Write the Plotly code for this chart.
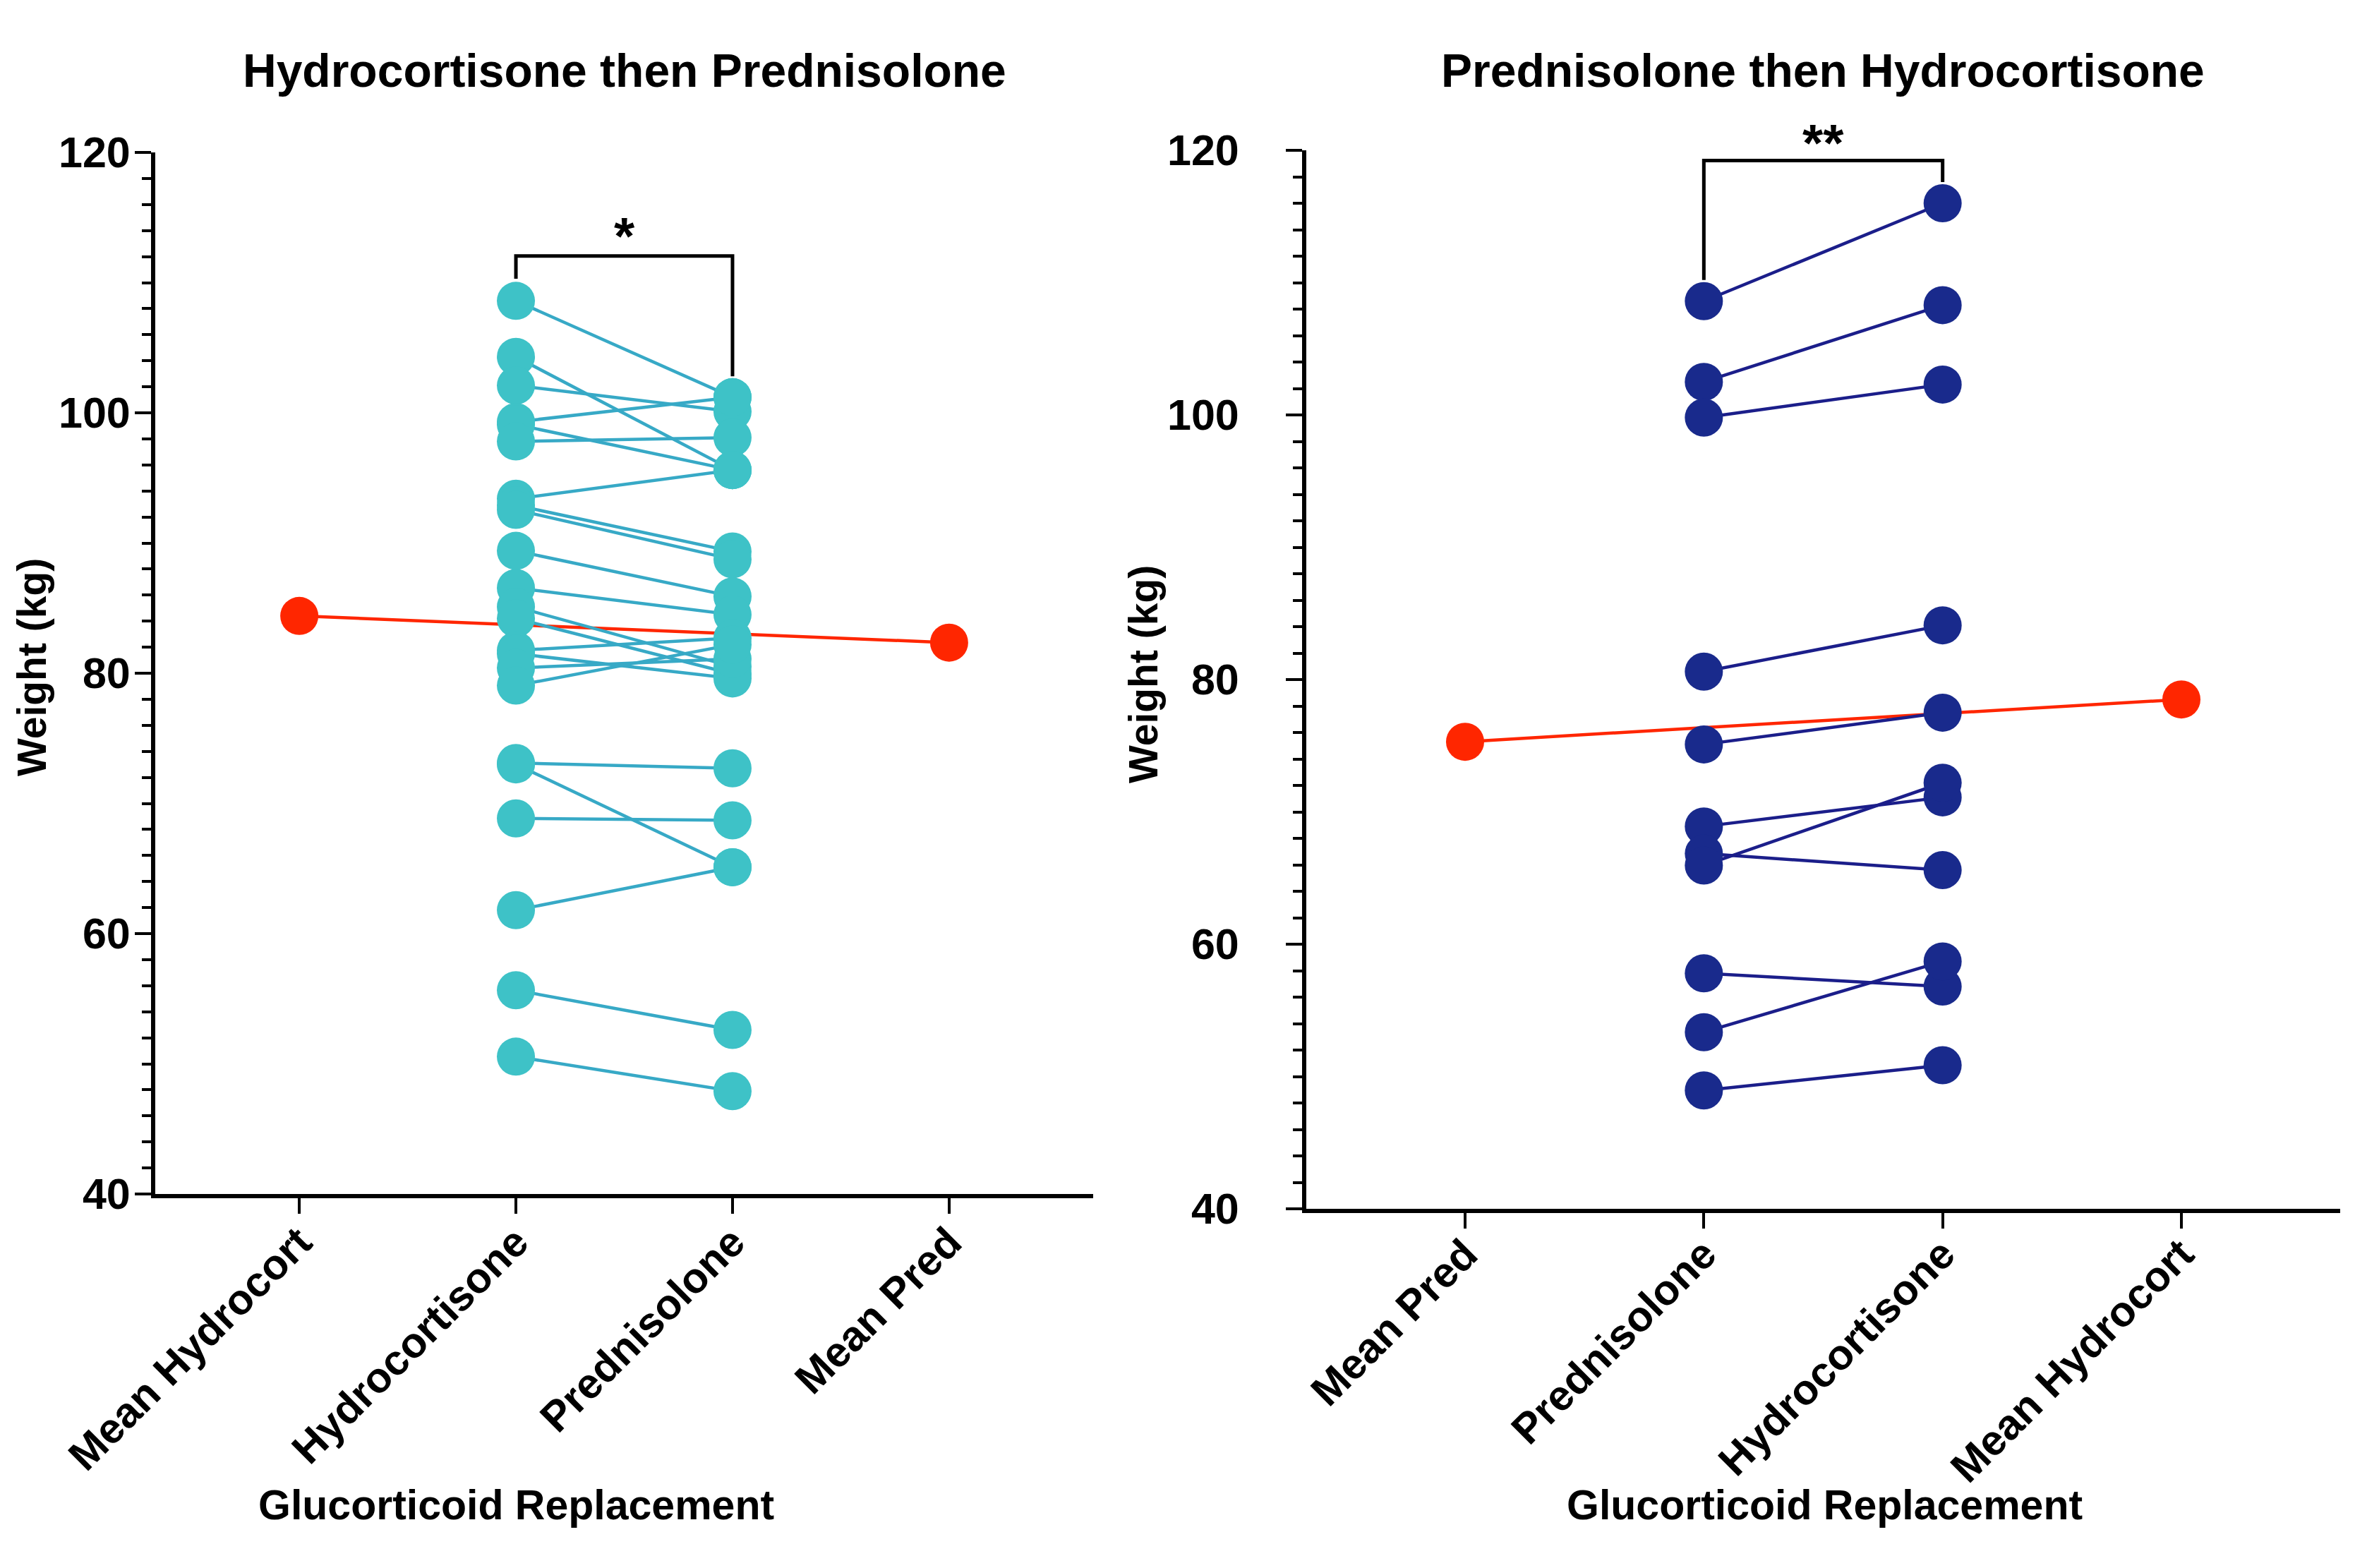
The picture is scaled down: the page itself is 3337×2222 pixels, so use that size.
import plotly.graph_objects as go

W, H = 3337, 2222

# ---------------- data ----------------
left_categories = ["Mean Hydrocort", "Hydrocortisone", "Prednisolone", "Mean Pred"]
right_categories = ["Mean Pred", "Prednisolone", "Hydrocortisone", "Mean Hydrocort"]

# Panel 1: Hydrocortisone then Prednisolone (paired, per subject)
hp_hydrocortisone = [108.6, 104.3, 102.1, 99.3, 99.1, 97.8, 93.4, 92.9, 92.55, 89.4, 86.55,
                     85.1, 84.2, 81.75, 81.5, 80.4, 79.05, 73.1, 73.0, 68.85, 61.8, 55.65, 50.55]
hp_prednisolone = [101.2, 95.6, 100.1, 101.2, 95.6, 98.1, 95.6, 89.35, 88.75, 85.9, 84.5,
                   80.5, 79.95, 82.7, 79.6, 81.1, 82.2, 72.7, 65.1, 68.7, 65.1, 52.6, 47.9]
hp_means = [84.4, 82.35]  # Mean Hydrocort, Mean Pred

# Panel 2: Prednisolone then Hydrocortisone (paired, per subject)
ph_prednisolone = [108.6, 102.5, 99.8, 80.6, 75.1, 68.9, 66.85, 65.95, 57.8, 53.35, 48.95]
ph_hydrocortisone = [116.0, 108.3, 102.3, 84.1, 77.5, 71.1, 65.6, 72.2, 56.8, 58.7, 50.85]
ph_means = [75.3, 78.5]  # Mean Pred, Mean Hydrocort

# significance brackets: [left end, top, right end]
hp_bracket = [110.3, 112.05, 102.8]
ph_bracket = [110.2, 119.23, 117.6]
hp_sig = "*"
ph_sig = "**"

y_ticks = [40, 60, 80, 100, 120]

titles = ["Hydrocortisone then Prednisolone", "Prednisolone then Hydrocortisone"]
x_title = "Glucorticoid Replacement"
y_title = "Weight (kg)"

# ---------------- style ----------------
FONT = "Liberation Sans, Arial, Helvetica, sans-serif"
TEAL_M = "#3EC2C7"
TEAL_L = "#37A9C6"
NAVY_M = "#192A8C"
NAVY_L = "#1B1E8A"
RED = "#FF2600"
MS = 54
LW = 4.5


def px_x(v):
    return v / W


def px_y(v):
    return 1 - v / H


fig = go.Figure()


def pair_lines(cats_a, cats_b, a_vals, b_vals):
    xs, ys = [], []
    for a, b in zip(a_vals, b_vals):
        xs += [cats_a, cats_b, None]
        ys += [a, b, None]
    return xs, ys


# ---------- Panel 1 ----------
fig.add_trace(go.Scatter(x=[left_categories[0], left_categories[3]], y=hp_means,
                         mode="lines+markers", line=dict(color=RED, width=LW),
                         marker=dict(color=RED, size=MS, line=dict(width=0)),
                         xaxis="x", yaxis="y", showlegend=False, hoverinfo="skip"))
xs, ys = pair_lines(left_categories[1], left_categories[2], hp_hydrocortisone, hp_prednisolone)
fig.add_trace(go.Scatter(x=xs, y=ys, mode="lines", line=dict(color=TEAL_L, width=LW),
                         xaxis="x", yaxis="y", showlegend=False, hoverinfo="skip"))
fig.add_trace(go.Scatter(x=[left_categories[1]] * len(hp_hydrocortisone) + [left_categories[2]] * len(hp_prednisolone),
                         y=hp_hydrocortisone + hp_prednisolone, mode="markers",
                         marker=dict(color=TEAL_M, size=MS, line=dict(width=0)),
                         xaxis="x", yaxis="y", showlegend=False))
fig.add_trace(go.Scatter(x=[left_categories[1], left_categories[1], left_categories[2], left_categories[2]],
                         y=[hp_bracket[0], hp_bracket[1], hp_bracket[1], hp_bracket[2]],
                         mode="lines", line=dict(color="black", width=5),
                         xaxis="x", yaxis="y", showlegend=False, hoverinfo="skip"))

# ---------- Panel 2 ----------
fig.add_trace(go.Scatter(x=[right_categories[0], right_categories[3]], y=ph_means,
                         mode="lines+markers", line=dict(color=RED, width=LW),
                         marker=dict(color=RED, size=MS, line=dict(width=0)),
                         xaxis="x2", yaxis="y2", showlegend=False, hoverinfo="skip"))
xs, ys = pair_lines(right_categories[1], right_categories[2], ph_prednisolone, ph_hydrocortisone)
fig.add_trace(go.Scatter(x=xs, y=ys, mode="lines", line=dict(color=NAVY_L, width=LW),
                         xaxis="x2", yaxis="y2", showlegend=False, hoverinfo="skip"))
fig.add_trace(go.Scatter(x=[right_categories[1]] * len(ph_prednisolone) + [right_categories[2]] * len(ph_hydrocortisone),
                         y=ph_prednisolone + ph_hydrocortisone, mode="markers",
                         marker=dict(color=NAVY_M, size=MS, line=dict(width=0)),
                         xaxis="x2", yaxis="y2", showlegend=False))
fig.add_trace(go.Scatter(x=[right_categories[1], right_categories[1], right_categories[2], right_categories[2]],
                         y=[ph_bracket[0], ph_bracket[1], ph_bracket[1], ph_bracket[2]],
                         mode="lines", line=dict(color="black", width=5),
                         xaxis="x2", yaxis="y2", showlegend=False, hoverinfo="skip"))

# ---------- axes ----------
def xaxis_cfg(cats, domain, anchor, standoff):
    return dict(type="category", categoryorder="array", categoryarray=cats,
                range=[-0.665, 3.665], domain=domain, anchor=anchor,
                showline=True, linewidth=6, linecolor="black", mirror=False,
                ticks="outside", ticklen=22, tickwidth=4, tickcolor="black",
                tickangle=-45, tickfont=dict(family=FONT, size=60, color="black", weight="bold"),
                ticklabelstandoff=standoff,
                showgrid=False, zeroline=False, automargin=False, fixedrange=True)


def yaxis_cfg(domain, anchor, standoff):
    return dict(range=[y_ticks[0], y_ticks[-1]], domain=domain, anchor=anchor,
                tickmode="array", tickvals=y_ticks,
                showline=True, linewidth=6, linecolor="black",
                ticks="outside", ticklen=23, tickwidth=4, tickcolor="black",
                minor=dict(tick0=40, dtick=2, ticks="outside", ticklen=13, tickwidth=4, tickcolor="black"),
                tickfont=dict(family=FONT, size=61, color="black", weight="bold"),
                ticklabelstandoff=standoff,
                showgrid=False, zeroline=False, automargin=False, fixedrange=True)


fig.update_layout(
    width=W, height=H,
    margin=dict(l=0, r=0, t=0, b=0),
    paper_bgcolor="white", plot_bgcolor="white",
    xaxis=xaxis_cfg(left_categories, [px_x(220), px_x(1549)], "y", -19),
    yaxis=yaxis_cfg([px_y(1692), px_y(216)], "x", -6),
    xaxis2=xaxis_cfg(right_categories, [px_x(1851), px_x(3316)], "y2", -23),
    yaxis2=yaxis_cfg([px_y(1713), px_y(213)], "x2", 54),
)

ann = []
# titles
ann.append(dict(text=titles[0], x=px_x(885), y=px_y(100), xref="paper", yref="paper",
                showarrow=False, xanchor="center", yanchor="middle",
                font=dict(family=FONT, size=66, color="black", weight="bold")))
ann.append(dict(text=titles[1], x=px_x(2583), y=px_y(100), xref="paper", yref="paper",
                showarrow=False, xanchor="center", yanchor="middle",
                font=dict(family=FONT, size=66, color="black", weight="bold")))
# axis titles
ann.append(dict(text=x_title, x=px_x(731), y=px_y(2133), xref="paper", yref="paper",
                showarrow=False, xanchor="center", yanchor="middle",
                font=dict(family=FONT, size=59, color="black", weight="bold")))
ann.append(dict(text=x_title, x=px_x(2585), y=px_y(2133), xref="paper", yref="paper",
                showarrow=False, xanchor="center", yanchor="middle",
                font=dict(family=FONT, size=59, color="black", weight="bold")))
ann.append(dict(text=y_title, x=px_x(45), y=px_y(946), xref="paper", yref="paper",
                showarrow=False, xanchor="center", yanchor="middle", textangle=-90,
                font=dict(family=FONT, size=57, color="black", weight="bold")))
ann.append(dict(text=y_title, x=px_x(1620), y=px_y(956), xref="paper", yref="paper",
                showarrow=False, xanchor="center", yanchor="middle", textangle=-90,
                font=dict(family=FONT, size=57, color="black", weight="bold")))
# significance labels
ann.append(dict(text=hp_sig, x=1.5, y=px_y(334), xref="x", yref="paper",
                showarrow=False, xanchor="center", yanchor="middle",
                font=dict(family=FONT, size=75, color="black", weight="bold")))
ann.append(dict(text=ph_sig, x=1.5, y=px_y(202), xref="x2", yref="paper",
                showarrow=False, xanchor="center", yanchor="middle",
                font=dict(family=FONT, size=75, color="black", weight="bold")))
fig.update_layout(annotations=ann)

fig.write_html("out.html", config={"displayModeBar": False},
               post_script="document.body.style.margin='0px';")
